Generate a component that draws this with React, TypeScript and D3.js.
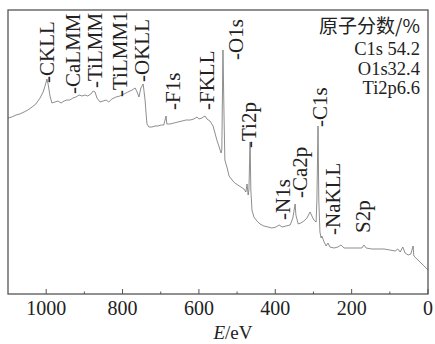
import React from "react";
import * as d3 from "d3";

// Binding energy (eV) and intensity (a.u.)
const energy = [
  1100, 1090, 1079, 1069, 1058, 1048, 1037, 1027, 1016, 1008, 1003, 998, 995, 990, 985, 977, 969, 961, 953, 946,
  938, 930, 922, 914, 906, 898, 891, 883, 877, 872, 867, 859, 851, 843, 836, 828, 817, 807, 796, 786,
  775, 767, 762, 757, 752, 746, 741, 738, 736, 731, 723, 715, 707, 699, 692, 686, 684, 676, 665, 655,
  644, 634, 623, 613, 605, 600, 592, 584, 579, 571, 563, 558, 553, 547, 542, 540, 537, 534, 532, 526,
  521, 513, 506, 498, 490, 482, 477, 474, 471, 469, 466, 464, 461, 456, 448, 440, 430, 419, 409, 398,
  390, 382, 372, 361, 354, 348, 346, 340, 333, 325, 317, 309, 304, 299, 293, 291, 288, 286, 283, 280,
  278, 272, 267, 262, 257, 246, 236, 228, 220, 204, 189, 173, 168, 162, 147, 131, 115, 100, 86, 79,
  73, 66, 60, 52, 45, 39, 37, 29, 21, 13, 5, 0,
];
const intensity = [
  176, 177, 179, 180, 182, 184, 187, 190, 196, 202, 208, 215, 210, 198, 191, 192, 193, 191, 193, 194,
  194, 196, 197, 199, 198, 199, 198, 200, 203, 202, 196, 192, 193, 194, 192, 195, 197, 198, 200, 202,
  204, 206, 202, 197, 206, 210, 194, 179, 170, 167, 167, 168, 168, 169, 169, 178, 170, 170, 171, 172,
  173, 174, 174, 175, 177, 175, 176, 178, 175, 173, 168, 161, 154, 147, 141, 144, 244, 174, 134, 126,
  118, 114, 111, 109, 107, 105, 102, 110, 99, 104, 152, 104, 84, 77, 73, 70, 68, 67, 66, 67,
  69, 67, 68, 69, 76, 90, 79, 70, 71, 73, 76, 82, 78, 74, 72, 94, 168, 94, 62, 56,
  58, 52, 48, 51, 47, 46, 47, 49, 46, 46, 46, 46, 49, 46, 45, 45, 45, 44, 43, 45,
  42, 47, 41, 39, 40, 48, 38, 35, 32, 29, 26, 24,
];

// Peak labels: name, energy position, intensity where the label starts
const peakNames = ["CKLL", "CaLMM", "TiLMM", "TiLMM1", "OKLL", "F1s", "FKLL", "O1s", "Ti2p", "N1s", "Ca2p", "C1s", "NaKLL", "S2p"];
const peakEnergy = [1000, 932, 872, 807, 749, 670, 579, 503, 469, 382, 335, 283, 249, 170];
const peakLevel = [211, 200, 206, 197, 212, 184, 184, 234, 146, 74, 96, 167, 59, 61];
const peakDash = [true, true, true, true, true, true, true, true, true, true, true, true, true, false];

const majorTicks = [1000, 800, 600, 400, 200, 0];
const minorTicks = [900, 700, 500, 300, 100];

const compTitle = "原子分数/%";
const compLines = ["C1s 54.2", "O1s32.4", "Ti2p6.6"];

const W = 435;
const H = 344;
const M = { left: 8, right: 7, top: 10, bottom: 50 };

const SERIF = "Liberation Serif";

export default function App() {
  const x = d3.scaleLinear().domain([1100, 0]).range([M.left, W - M.right]);
  const y = d3.scaleLinear().domain([0, 284]).range([H - M.bottom, M.top]);
  const pts = energy.map((e, i) => [e, intensity[i]] as [number, number]);
  const line = d3
    .line<[number, number]>()
    .x((d) => x(d[0]))
    .y((d) => y(d[1]));
  const textColor = "#222";
  const y0 = H - M.bottom;
  return (
    <svg width={W} height={H} style={{ position: "absolute", left: 0, top: 0, background: "#fff" }}>
      <path d={line(pts) || ""} fill="none" stroke="#7a7a7a" strokeWidth={0.85} />
      <rect
        x={M.left}
        y={M.top}
        width={W - M.left - M.right}
        height={H - M.top - M.bottom}
        fill="none"
        stroke="#555"
        strokeWidth={1.3}
      />
      {majorTicks.map((t) => (
        <g key={"M" + t}>
          <line x1={x(t)} x2={x(t)} y1={y0} y2={y0 - 5} stroke="#555" strokeWidth={1} />
          <text x={x(t)} y={y0 + 21} textAnchor="middle" fontSize={20} fill={textColor} fontFamily={SERIF}>
            {t}
          </text>
        </g>
      ))}
      {minorTicks.map((t) => (
        <line key={"m" + t} x1={x(t)} x2={x(t)} y1={y0} y2={y0 - 2.5} stroke="#555" strokeWidth={1} />
      ))}
      <text x={233} y={339} textAnchor="middle" fontSize={19} fill={textColor} fontFamily={SERIF}>
        <tspan fontStyle="italic">E</tspan>/eV
      </text>
      {peakNames.map((n, i) => {
        const px = x(peakEnergy[i]);
        const py = y(peakLevel[i]);
        return (
          <text
            key={n}
            transform={`translate(${px},${py}) rotate(-90)`}
            dy="0.35em"
            fontSize={21}
            fill={textColor}
            fontFamily={SERIF}
          >
            {(peakDash[i] ? "-" : "") + n}
          </text>
        );
      })}
      <text x={420} y={33} textAnchor="end" fontSize={19} fill={textColor} fontFamily="Noto Sans CJK SC">
        {compTitle}
      </text>
      {compLines.map((s, i) => (
        <text key={s} x={420} y={55 + i * 19.5} textAnchor="end" fontSize={18.5} fill={textColor} fontFamily={SERIF}>
          {s}
        </text>
      ))}
    </svg>
  );
}
